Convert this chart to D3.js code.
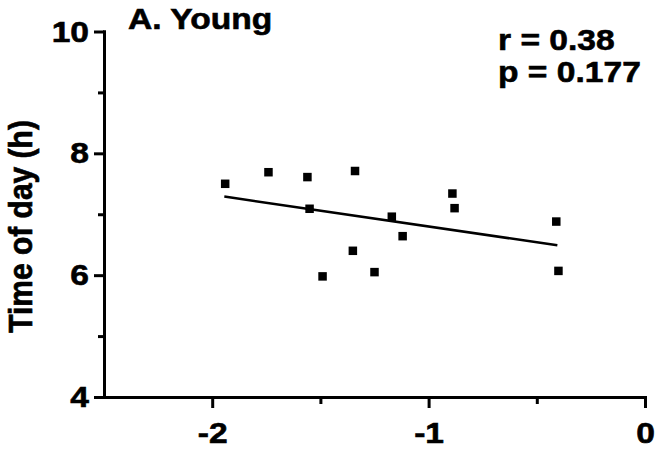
<!DOCTYPE html>
<html lang="en">
    <head>
        <meta charset="utf-8">
        <title>A. Young</title>
        <script type="text/javascript" src="https://d3js.org/d3.v7.min.js"></script>
        <style>
          body { margin: 0; background: #fff; }
          text { font-family: "Liberation Sans", Arial, sans-serif; font-weight: bold;
                 stroke: #000; stroke-width: 0.6px; }
        </style>
    </head>
    <body>
        <script type="text/javascript">
          // values
          const xVals = [-1.94, -1.74, -1.56, -1.55, -1.34, -1.49, -1.35, -1.25, -1.17, -1.12, -0.89, -0.88, -0.41, -0.40]
          const yVals = [7.50, 7.69, 7.61, 7.09, 7.71, 5.98, 6.40, 6.05, 6.96, 6.64, 7.34, 7.10, 6.88, 6.07]
          const fitX = [-1.944, -0.405]
          const fitY = [7.29, 6.49]
          const xMajor = [-2, -1, 0]
          const xMinor = [-1.5, -0.5]
          const yMajor = [4, 6, 8, 10]
          const yMinor = [5, 7, 9]
          const title = "A. Young"
          const stats = ["r = 0.38", "p = 0.177"]
          const yTitle = "Time of day (h)"

          const w = 658, h = 449
          const m = {top: 31.5, right: 13, bottom: 52, left: 104}
          const sx = 1.12   // the source text is a bit wide
          const fs = 30
          const fmt = (d) => String(d)   // plain hyphen, no decimals

          const svg = d3.select("body")
                        .append("svg")
                        .attr("width", w)
                        .attr("height", h)

          const x = d3.scaleLinear().domain([-2.5, 0]).range([m.left, w - m.right])
          const y = d3.scaleLinear().domain([4, 10]).range([h - m.bottom, m.top])

          const styleAxis = (g) => {
            g.selectAll("path.domain").attr("stroke-width", 3).attr("stroke-linecap", "square")
            g.selectAll(".tick line").attr("stroke-width", 3)
            g.selectAll("text").attr("font-size", fs).attr("fill", "#000")
          }

          // minor ticks first, majors on top
          svg.append("g")
            .attr("transform", `translate(0,${h - m.bottom})`)
            .call(d3.axisBottom(x).tickValues(xMinor).tickSize(7).tickSizeOuter(0).tickFormat(""))
            .call(styleAxis)
          svg.append("g")
            .attr("transform", `translate(${m.left},0)`)
            .call(d3.axisLeft(y).tickValues(yMinor).tickSize(6).tickSizeOuter(0).tickFormat(""))
            .call(styleAxis)

          // x axis
          const gx = svg.append("g")
            .attr("transform", `translate(0,${h - m.bottom})`)
            .call(d3.axisBottom(x).tickValues(xMajor).tickSize(11).tickSizeOuter(0).tickPadding(14)
                    .tickFormat(fmt))
            .call(styleAxis)
          gx.selectAll("text").attr("transform", `scale(${sx},1)`)

          // y axis
          const gy = svg.append("g")
            .attr("transform", `translate(${m.left},0)`)
            .call(d3.axisLeft(y).tickValues(yMajor).tickSize(10).tickSizeOuter(0).tickPadding(5)
                    .tickFormat(fmt))
            .call(styleAxis)
          gy.selectAll("text").attr("x", -15 / sx).attr("transform", `scale(${sx},1)`)

          // regression line
          svg.append("path")
            .datum(d3.zip(fitX, fitY))
            .attr("d", d3.line().x((d) => x(d[0])).y((d) => y(d[1])))
            .attr("fill", "none")
            .attr("stroke", "#000")
            .attr("stroke-width", 2.5)

          // points
          const sz = 8.5
          svg.selectAll("rect.pt")
            .data(d3.zip(xVals, yVals))
            .enter()
            .append("rect")
            .attr("class", "pt")
            .attr("x", (d) => x(d[0]) - sz / 2)
            .attr("y", (d) => y(d[1]) - sz / 2)
            .attr("width", sz)
            .attr("height", sz)
            .attr("fill", "#000")

          // texts
          const label = (str, tx, ty) => {
            svg.append("text")
              .attr("transform", `translate(${tx},${ty}) scale(${sx},1)`)
              .attr("font-size", fs)
              .attr("fill", "#000")
              .text(str)
          }
          label(title, 128, 28.5)
          stats.forEach((s, i) => label(s, 498, 50 + i * 32))

          svg.append("text")
            .attr("transform", `translate(32,226.5) scale(${sx},1) rotate(-90)`)
            .attr("text-anchor", "middle")
            .attr("font-size", fs)
            .attr("fill", "#000")
            .text(yTitle)
        </script>
    </body>
</html>
